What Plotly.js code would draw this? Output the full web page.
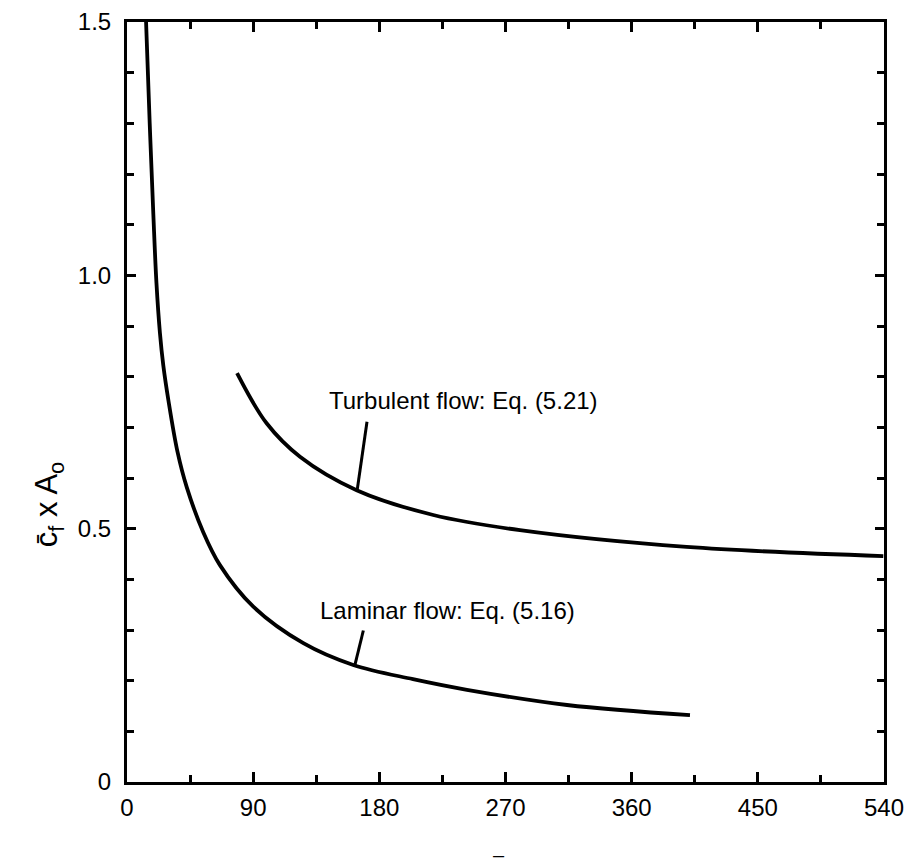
<!DOCTYPE html>
<html>
<head>
<meta charset="utf-8">
<script src="https://cdn.plot.ly/plotly-3.0.1.min.js"></script>
<style>html,body{margin:0;padding:0;background:#fff;}#chart{width:912px;height:865px;}</style>
</head>
<body>
<div id="chart"></div>
<script>
// Laminar flow curve: Eq. (5.16)
const laminarX = [13.6, 16.2, 18.8, 21.0, 23.5, 25.9, 29.5, 36.0, 42.6, 54.4, 66.3, 90.1, 125.8, 161.4, 204.0, 242.5, 313.9, 401.6];
const laminarY = [1.50, 1.30, 1.12, 0.985, 0.886, 0.822, 0.754, 0.652, 0.582, 0.493, 0.428, 0.346, 0.274, 0.231, 0.203, 0.182, 0.152, 0.132];
// Turbulent flow curve: Eq. (5.21)
const turbX = [78.5, 99.6, 123.4, 163.8, 218.5, 280.3, 399.2, 539.5];
const turbY = [0.807, 0.708, 0.642, 0.576, 0.527, 0.497, 0.464, 0.446];
// Leader lines for labels
const turbLeaderX = [171.2, 164.2];
const turbLeaderY = [0.711, 0.576];
const lamLeaderX = [168.6, 162.6];
const lamLeaderY = [0.299, 0.231];
// Label texts and anchors
const turbLabel = "Turbulent flow: Eq. (5.21)";
const lamLabel = "Laminar flow: Eq. (5.16)";
const turbLabelPos = [142.7, 0.752];
const lamLabelPos = [136.2, 0.339];
// Tick labels
const xTickVals = [0, 90, 180, 270, 360, 450, 540];
const xTickText = ["0", "90", "180", "270", "360", "450", "540"];
const yTickVals = [0, 0.5, 1.0, 1.5];
const yTickText = ["0", "0.5", "1.0", "1.5"];

const FONT = "Liberation Sans, Arial, sans-serif";
const lineStyle = {color: "#000", width: 3.8, shape: "spline", smoothing: 1};

const traces = [
  {x: laminarX, y: laminarY, mode: "lines", line: lineStyle, hoverinfo: "skip"},
  {x: turbX, y: turbY, mode: "lines", line: lineStyle, hoverinfo: "skip"},
  {x: turbLeaderX, y: turbLeaderY, mode: "lines", line: {color: "#000", width: 3}, hoverinfo: "skip"},
  {x: lamLeaderX, y: lamLeaderY, mode: "lines", line: {color: "#000", width: 3}, hoverinfo: "skip"}
];

const axisCommon = {
  showline: true, linecolor: "#000", linewidth: 3, mirror: "allticks",
  ticks: "inside", tickcolor: "#000", tickwidth: 3,
  showgrid: false, zeroline: false,
  tickfont: {family: FONT, size: 24, color: "#000"},
  tickmode: "array"
};

const layout = {
  width: 912, height: 865,
  margin: {l: 127, r: 28, t: 22, b: 83},
  paper_bgcolor: "#fff", plot_bgcolor: "#fff",
  showlegend: false,
  xaxis: Object.assign({}, axisCommon, {
    range: [0, 540], tickvals: xTickVals, ticktext: xTickText, ticklen: 10,
    ticklabelstandoff: 2,
    minor: {dtick: 45, tick0: 0, ticks: "inside", ticklen: 7, tickwidth: 3, tickcolor: "#000", showgrid: false}
  }),
  yaxis: Object.assign({}, axisCommon, {
    range: [0, 1.5], tickvals: yTickVals, ticktext: yTickText, ticklen: 9,
    ticklabelstandoff: 8,
    minor: {dtick: 0.1, tick0: 0, ticks: "inside", ticklen: 7, tickwidth: 3, tickcolor: "#000", showgrid: false}
  }),
  annotations: [
    {x: turbLabelPos[0], y: turbLabelPos[1], xref: "x", yref: "y", text: turbLabel, showarrow: false,
     xanchor: "left", yanchor: "middle", font: {family: FONT, size: 24, color: "#000"}},
    {x: lamLabelPos[0], y: lamLabelPos[1], xref: "x", yref: "y", text: lamLabel, showarrow: false,
     xanchor: "left", yanchor: "middle", font: {family: FONT, size: 24, color: "#000"}},
    {x: -0.102, y: 0.548, xref: "paper", yref: "y", text: "c\u0304<sub>f</sub> x A<sub>o</sub>", showarrow: false,
     textangle: -90, xanchor: "center", yanchor: "middle", font: {family: FONT, size: 31, color: "#000"}},
    {x: 0.491, y: -0.096, xref: "paper", yref: "paper", text: "\u2013", showarrow: false,
     xanchor: "center", yanchor: "middle", font: {family: FONT, size: 20, color: "#000"}}
  ]
};

Plotly.newPlot("chart", traces, layout, {staticPlot: true, displayModeBar: false});
</script>
</body>
</html>
